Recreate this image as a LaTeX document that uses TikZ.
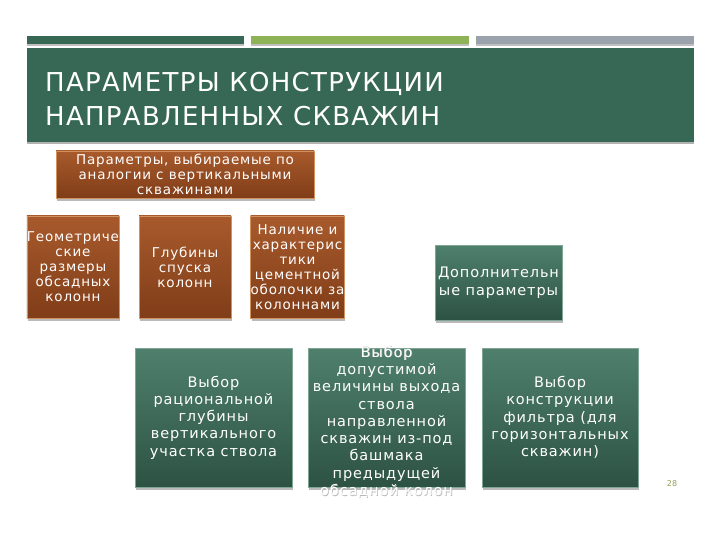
\documentclass[tikz,border=0pt]{standalone}
\usepackage{fontspec}
\setmainfont{DejaVu Sans}
\newfontfamily\boxfont[LetterSpace=6]{DejaVu Sans}
\newfontfamily\titlefont[LetterSpace=5]{DejaVu Sans}
\usetikzlibrary{shadows}
\pgfdeclarelayer{background}
\pgfsetlayers{background,main}
\definecolor{titlegreen}{HTML}{376856}
\definecolor{barlight}{HTML}{8EB356}
\definecolor{bargray}{HTML}{9AA2AB}
\definecolor{browntop}{HTML}{A85A2C}
\definecolor{brownbot}{HTML}{803D18}
\definecolor{brownedge}{HTML}{D0935F}
\definecolor{brownline}{HTML}{8C4A20}
\definecolor{greentop}{HTML}{4F806D}
\definecolor{greenbot}{HTML}{2D5244}
\definecolor{greenedge}{HTML}{7FA595}
\definecolor{greenline}{HTML}{2E4A40}
\definecolor{txtshadow}{HTML}{B8B8B8}
\definecolor{numgreen}{HTML}{8EA056}
\newcommand\shtxt[1]{\makebox[0pt][l]{\hspace{0.7pt}\raisebox{-0.7pt}{\color{txtshadow}#1}}#1}
\tikzset{
  boxshadow/.style={drop shadow={shadow xshift=1pt,shadow yshift=-3pt,fill=black!45,opacity=0.6}},
  brownbox/.style={boxshadow,top color=browntop,bottom color=brownbot,draw=brownedge,line width=0.6pt,
    text=white,align=center,inner sep=0pt,font=\boxfont\fontsize{13.5}{15}\selectfont},
  greenbox/.style={boxshadow,top color=greentop,bottom color=greenbot,draw=greenedge,line width=0.6pt,
    text=white,align=center,inner sep=0pt,font=\boxfont\fontsize{14.5}{17.3}\selectfont},
  brownconn/.style={draw=brownline,line width=1.8pt},
  greenconn/.style={draw=greenline,line width=1.8pt},
  titletext/.style={text=white,inner sep=0pt,font=\titlefont\fontsize{26}{30}\selectfont}
}
\begin{document}
\begin{tikzpicture}[x=1pt,y=-1pt]
\useasboundingbox (0,0) rectangle (720,540);
\fill[white] (0,0) rectangle (720,540);
% top bars
\fill[black!25] (27,44) rectangle (244,46);
\fill[black!25] (251,44) rectangle (469,46);
\fill[black!25] (476,44) rectangle (694,46);
\fill[titlegreen] (27,36) rectangle (244,44);
\fill[barlight] (251,36) rectangle (469,44);
\fill[bargray] (476,36) rectangle (694,44);
% title band
\fill[black!30] (27,142) rectangle (694,144.5);
\fill[titlegreen] (27,48) rectangle (694,142);
\node[titletext,anchor=base west] (t1) at (45,92) {ПАРАМЕТРЫ КОНСТРУКЦИИ};
\node[titletext,anchor=base west] (t2) at (45,126) {НАПРАВЛЕННЫХ СКВАЖИН};
% brown group
\node[brownbox,minimum width=258pt,minimum height=47pt] (top) at (185,174.5)
  {Параметры, выбираемые по\\аналогии с вертикальными\\скважинами};
\node[brownbox,minimum width=92pt,minimum height=102pt] (g1) at (73,267)
  {Геометриче\\ские\\размеры\\обсадных\\колонн};
\node[brownbox,minimum width=92pt,minimum height=102pt] (g2) at (185,267)
  {Глубины\\спуска\\колонн};
\node[brownbox,minimum width=93pt,minimum height=102pt] (g3) at (297.5,267)
  {Наличие и\\характерис\\тики\\цементной\\оболочки за\\колоннами};
\coordinate (tb) at (185,207);
% green group
\node[greenbox,minimum width=127pt,minimum height=75pt,font=\boxfont\fontsize{14.5}{18}\selectfont] (dop) at (498.5,282.5)
  {Дополнительн\\ые параметры};
\node[greenbox,minimum width=157pt,minimum height=139pt] (b1) at (213.5,417.5)
  {Выбор\\рациональной\\глубины\\вертикального\\участка ствола};
\node[greenbox,minimum width=157pt,minimum height=139pt] (b2) at (386.5,417.5)
  {\smash{\raisebox{-9pt}{\begin{tabular}{@{}c@{}}\shtxt{Выбор}\\допустимой\\величины выхода\\ствола\\направленной\\скважин из-под\\башмака\\предыдущей\\\shtxt{обсадной колон}\end{tabular}}}};
\node[greenbox,minimum width=156pt,minimum height=139pt] (b3) at (560,417.5)
  {Выбор\\конструкции\\фильтра (для\\горизонтальных\\скважин)};
\coordinate (bb) at (498.5,340);
\begin{pgfonlayer}{background}
\draw[brownconn] (top.south) -- (g2.north);
\draw[brownconn] (g1.north) -- (g1.north |- tb) -- (g3.north |- tb) -- (g3.north);
\draw[greenconn] (dop.south) -- (bb);
\draw[greenconn] (b1.north) -- (b1.north |- bb) -- (b3.north |- bb) -- (b3.north);
\draw[greenconn] (b2.north) -- (b2.north |- bb);
\end{pgfonlayer}
\node[text=numgreen,font=\fontsize{8}{8}\selectfont,inner sep=0pt] (num) at (672,484) {28};
\end{tikzpicture}
\end{document}
